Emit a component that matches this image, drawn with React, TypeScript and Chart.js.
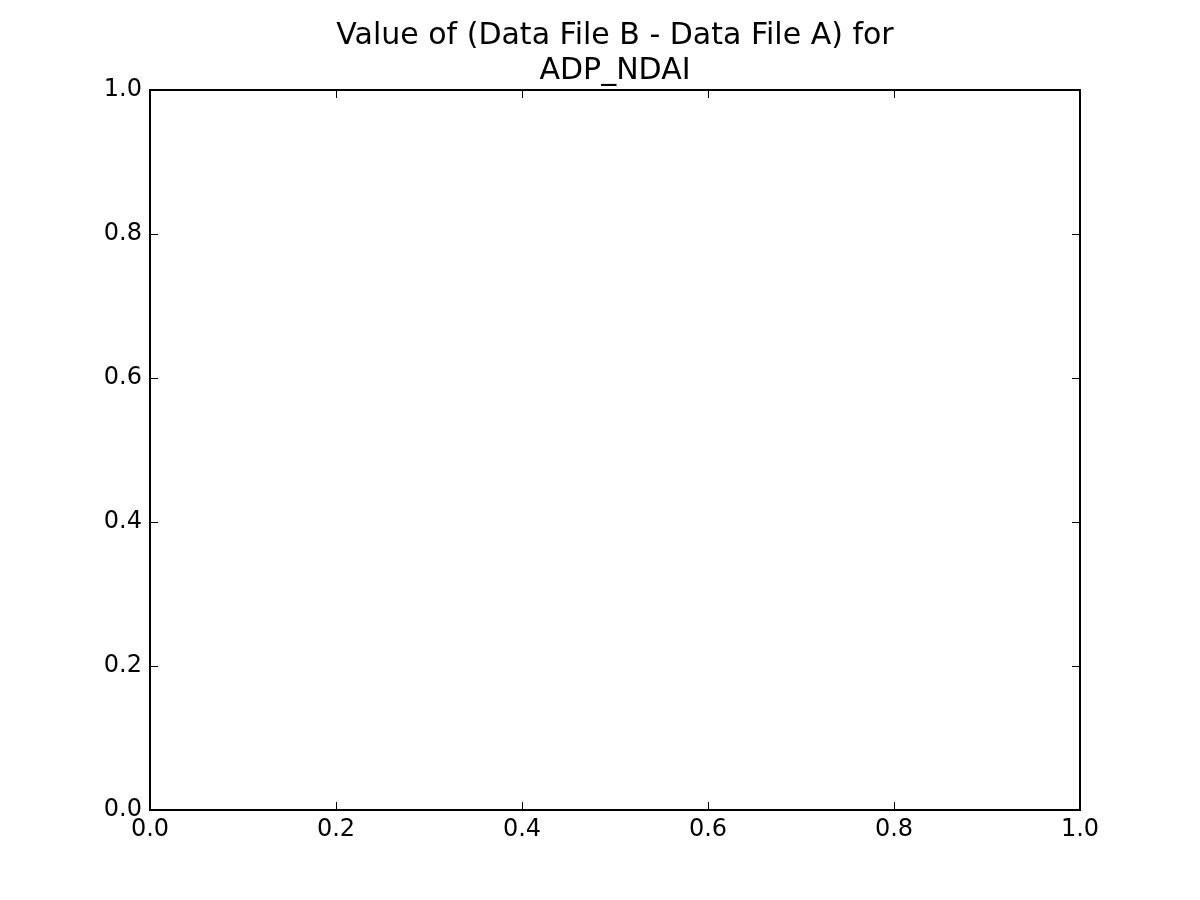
import React, { useEffect, useRef } from "react";
import { Chart, registerables } from "chart.js";

Chart.register(...registerables);

// ---- data ----
const titleLines: string[] = ["Value of (Data File B - Data File A) for", "ADP_NDAI"];
const xTickValues: number[] = [0, 0.2, 0.4, 0.6, 0.8, 1.0];
const yTickValues: number[] = [0, 0.2, 0.4, 0.6, 0.8, 1.0];
const xRange: number[] = [0, 1];
const yRange: number[] = [0, 1];
// The plot holds no data points.
const seriesPoints: { x: number; y: number }[] = [];

const FONT = '"DejaVu Sans", "Liberation Sans", sans-serif';

const framePlugin = {
  id: "mplFrame",
  afterDraw(chart: any) {
    const { ctx, chartArea, scales } = chart;
    const { left, right, top, bottom } = chartArea;
    ctx.save();
    // inward ticks on all four sides
    ctx.strokeStyle = "#000";
    ctx.lineWidth = 1;
    const tl = 8;
    ctx.beginPath();
    for (const v of xTickValues) {
      const px = Math.round(scales.x.getPixelForValue(v)) + 0.5;
      ctx.moveTo(px, bottom);
      ctx.lineTo(px, bottom - tl);
      ctx.moveTo(px, top);
      ctx.lineTo(px, top + tl);
    }
    for (const v of yTickValues) {
      const py = Math.round(scales.y.getPixelForValue(v)) + 0.5;
      ctx.moveTo(left, py);
      ctx.lineTo(left + tl, py);
      ctx.moveTo(right, py);
      ctx.lineTo(right - tl, py);
    }
    ctx.stroke();
    // spines
    ctx.lineWidth = 2;
    ctx.strokeRect(left, top, right - left, bottom - top);
    // title
    ctx.fillStyle = "#000";
    ctx.font = `30px ${FONT}`;
    ctx.textAlign = "center";
    ctx.textBaseline = "alphabetic";
    const cx = (left + right) / 2;
    const baselines = [44, 79];
    titleLines.forEach((line, i) => {
      ctx.fillText(line, cx, baselines[i]);
    });
    ctx.restore();
  },
};

export default function App() {
  const canvasRef = useRef<HTMLCanvasElement | null>(null);

  useEffect(() => {
    document.body.style.margin = "0";
    const canvas = canvasRef.current;
    if (!canvas) return;
    const chart = new Chart(canvas, {
      type: "scatter",
      data: {
        datasets: [
          {
            data: seriesPoints,
            pointRadius: 0,
          },
        ],
      },
      options: {
        responsive: false,
        animation: false,
        devicePixelRatio: 1,
        layout: { padding: { top: 90, right: 120, left: 0, bottom: 0 } },
        plugins: {
          legend: { display: false },
          tooltip: { enabled: false },
          title: { display: false },
        },
        scales: {
          x: {
            type: "linear",
            position: "bottom",
            min: xRange[0],
            max: xRange[1],
            afterFit: (s: any) => {
              s.height = 90;
            },
            afterBuildTicks: (s: any) => {
              s.ticks = xTickValues.map((v) => ({ value: v }));
            },
            grid: { display: false, drawTicks: false },
            border: { display: false },
            ticks: {
              color: "#000",
              font: { family: FONT, size: 24 },
              padding: 5,
              maxRotation: 0,
              autoSkip: false,
              callback: (v: any) => Number(v).toFixed(1),
            },
          },
          y: {
            type: "linear",
            position: "left",
            min: yRange[0],
            max: yRange[1],
            afterFit: (s: any) => {
              s.width = 150;
            },
            afterBuildTicks: (s: any) => {
              s.ticks = yTickValues.map((v) => ({ value: v }));
            },
            grid: { display: false, drawTicks: false },
            border: { display: false },
            ticks: {
              color: "#000",
              font: { family: FONT, size: 24 },
              padding: 8,
              autoSkip: false,
              callback: (v: any) => Number(v).toFixed(1),
            },
          },
        },
      },
      plugins: [framePlugin],
    });
    return () => chart.destroy();
  }, []);

  return (
    <div style={{ position: "absolute", left: 0, top: 0, width: 1200, height: 900, background: "#fff" }}>
      <canvas ref={canvasRef} width={1200} height={900} style={{ width: 1200, height: 900 }} />
    </div>
  );
}
